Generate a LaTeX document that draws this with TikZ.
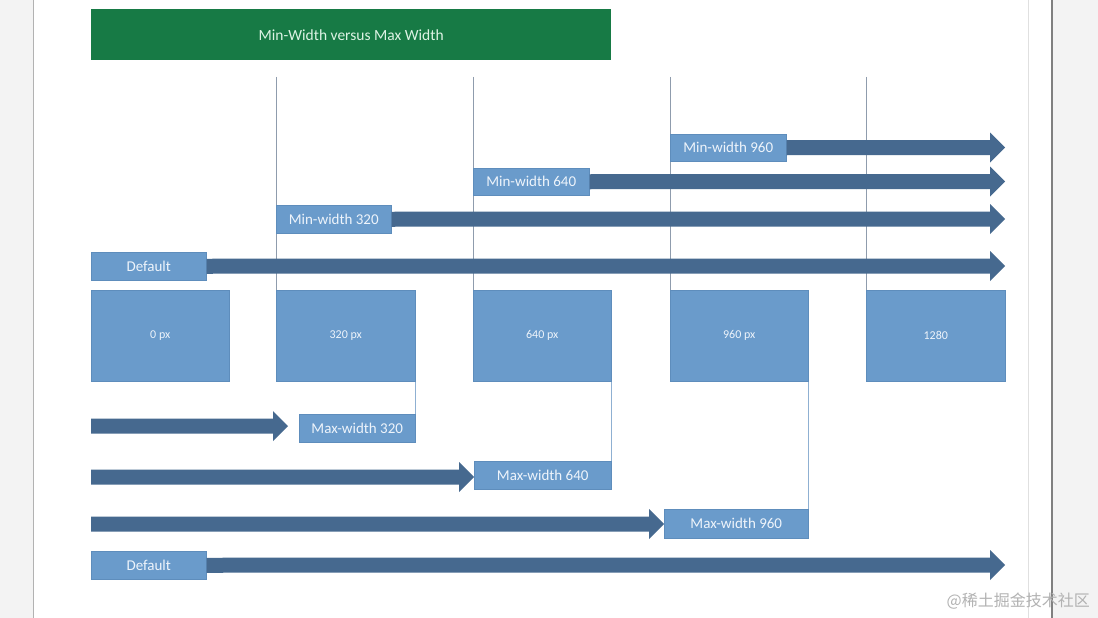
\documentclass[tikz,border=0pt]{standalone}
\usepackage{fontspec}
\setmainfont{Carlito}
\newfontfamily\cjk{Noto Sans CJK SC}
\definecolor{pagegrey}{HTML}{F3F3F3}
\definecolor{titlegreen}{HTML}{177A45}
\definecolor{titletext}{HTML}{DDF3E4}
\definecolor{boxblue}{HTML}{6A9BCB}
\definecolor{boxedge}{HTML}{5E8DBC}
\definecolor{boxtext}{HTML}{EEF4FB}
\definecolor{arrowc}{HTML}{46698F}
\definecolor{vlinec}{HTML}{8F9CAD}
\definecolor{vlineb}{HTML}{8FB0D2}
\newcommand\fatarrow[2]{%
  \fill[arrowc] ([yshift=7.5]#1) -- ([xshift=-15,yshift=7.5]#2) -- ([xshift=-15,yshift=15]#2) -- (#2)
    -- ([xshift=-15,yshift=-15]#2) -- ([xshift=-15,yshift=-7.5]#2) -- ([yshift=-7.5]#1) -- cycle;}
\begin{document}
\begin{tikzpicture}[x=1pt,y=-1pt,
  lbl/.style={fill=boxblue, draw=boxedge, line width=0.5pt, text=boxtext,
    font=\fontsize{15}{17}\selectfont, inner sep=0pt, anchor=north west, align=center},
  bigbox/.style={fill=boxblue, draw=boxedge, line width=0.5pt, text=boxtext,
    font=\fontsize{12}{14}\selectfont, inner sep=0pt, anchor=north west,
    minimum height=91pt},
  vline/.style={draw=vlinec, line width=0.8pt},
  vlineb/.style={draw=vlineb, line width=0.8pt}]
\useasboundingbox (0,0) rectangle (1098,618);
% page
\fill[pagegrey] (0,0) rectangle (1098,618);
\fill[white] (33,0) rectangle (1052,618);
\draw[draw=black!30, line width=1pt] (33,0) -- (33,618);
\draw[draw=black!12, line width=0.8pt] (1028,0) -- (1028,618);
\draw[draw=black!50, line width=1.2pt] (1052,0) -- (1052,618);
% title
\node[fill=titlegreen, text=titletext, inner sep=0pt, anchor=north west,
  minimum width=520pt, minimum height=51pt, font=\fontsize{15.5}{18}\selectfont]
  (title) at (91,9) {Min-Width versus Max Width};
% big boxes
\node[bigbox, minimum width=138pt] (b0) at (91,290) {0 px};
\node[bigbox, minimum width=139pt] (b320) at (276,290) {320 px};
\node[bigbox, minimum width=138pt] (b640) at (473,290) {640 px};
\node[bigbox, minimum width=138pt] (b960) at (670,290) {960 px};
\node[bigbox, minimum width=139pt] (b1280) at (866,290) {1280};
% vertical lines (top)
\coordinate (v320) at (276,77);
\coordinate (v640) at (473,77);
\coordinate (v960) at (670,77);
\coordinate (v1280) at (866,77);
\draw[vline] (v320) -- (b320.north west);
\draw[vline] (v640) -- (b640.north west);
\draw[vline] (v960) -- (b960.north west);
\draw[vline] (v1280) -- (b1280.north west);
% top labels
\node[lbl, minimum width=116pt, minimum height=27pt] (min960) at (670,134) {Min-width 960};
\node[lbl, minimum width=116pt, minimum height=27pt] (min640) at (473,168) {Min-width 640};
\node[lbl, minimum width=115pt, minimum height=28pt] (min320) at (276,205) {Min-width 320};
\node[lbl, minimum width=115pt, minimum height=28pt] (def1) at (91,252) {Default};
% top arrows
\coordinate (t960) at (1005,147.5);
\coordinate (t640) at (1005,181.5);
\coordinate (t320) at (1005,219);
\coordinate (tdef1) at (1005,266);
\fatarrow{min960.east}{t960}
\fatarrow{min640.east}{t640}
\fatarrow{min320.east}{t320}
\fatarrow{def1.east}{tdef1}
% bottom labels
\node[lbl, minimum width=116pt, minimum height=28pt] (max320) at (299,414) {Max-width 320};
\node[lbl, minimum width=137pt, minimum height=28pt] (max640) at (474,461) {Max-width 640};
\node[lbl, minimum width=144pt, minimum height=29pt] (max960) at (664,509) {Max-width 960};
\node[lbl, minimum width=115pt, minimum height=28pt] (def2) at (91,551) {Default};
% bottom vertical lines
\draw[vlineb] (b320.south east) -- (max320.north east);
\draw[vlineb] (b640.south east) -- (max640.north east);
\draw[vlineb] (b960.south east) -- (max960.north east);
% bottom arrows
\coordinate (s1) at (91,426);
\coordinate (s2) at (91,477);
\coordinate (s3) at (91,524);
\coordinate (e1) at (288,426);
\coordinate (e2) at (474,477);
\coordinate (e3) at (664,524);
\coordinate (tdef2) at (1005,565);
\fatarrow{s1}{e1}
\fatarrow{s2}{e2}
\fatarrow{s3}{e3}
\fatarrow{def2.east}{tdef2}
% watermark
\node[anchor=east, text=black!30, inner sep=0pt, font=\cjk\fontsize{16}{18}\selectfont]
  (wm) at (1090,601) {@稀土掘金技术社区};
\end{tikzpicture}
\end{document}
